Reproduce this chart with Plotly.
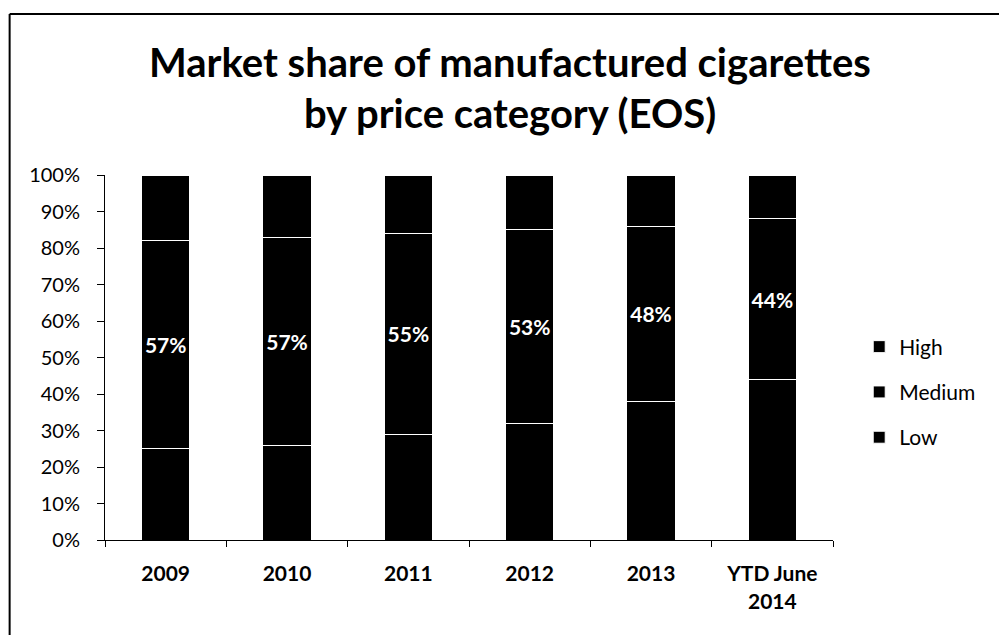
import plotly.graph_objects as go

# Market share (%) by price category, end-of-season figures
years = ["2009", "2010", "2011", "2012", "2013", "YTD June<br>2014"]
low = [25, 26, 29, 32, 38, 44]
medium = [57, 57, 55, 53, 48, 44]
high = [18, 17, 16, 15, 14, 12]

y_ticks = [0, 10, 20, 30, 40, 50, 60, 70, 80, 90, 100]
y_tick_text = [f"{v}%" for v in y_ticks]

title_lines = ["Market share of manufactured cigarettes", "by price category (EOS)"]

FONT = "Lato"
BAR_LINE = dict(color="white", width=1)

fig = go.Figure()
fig.add_trace(go.Bar(name="Low", x=years, y=low, legendrank=3, legendgroup="low",
                     marker=dict(color="black", line=BAR_LINE)))
fig.add_trace(go.Bar(
    name="Medium", x=years, y=medium, legendrank=2, legendgroup="medium",
    marker=dict(color="black", line=BAR_LINE),
    texttemplate="%{y}%", textposition="inside", insidetextanchor="middle",
    textangle=0, constraintext="none",
    insidetextfont=dict(color="white", size=21, family=FONT, weight="bold"),
))
fig.add_trace(go.Bar(name="High", x=years, y=high, legendrank=1, legendgroup="high",
                     marker=dict(color="black", line=BAR_LINE)))

fig.update_layout(
    barmode="stack",
    bargap=0.6,
    width=999, height=636,
    margin=dict(l=105, r=166, t=175, b=96),
    paper_bgcolor="white", plot_bgcolor="white",
    font=dict(family=FONT, color="black"),
    legend=dict(
        x=1.036, xanchor="left", y=0.585, yanchor="top",
        traceorder="grouped", tracegroupgap=15,
        font=dict(size=21, family=FONT, color="black"),
        bgcolor="rgba(0,0,0,0)",
    ),
    showlegend=True,
)

# Two-line chart title
for text, ypos in zip(title_lines, [1.3096, 1.170]):
    fig.add_annotation(
        text=text, xref="paper", yref="paper", x=0.556, y=ypos,
        xanchor="center", yanchor="middle", showarrow=False,
        font=dict(size=40, family=FONT, weight="bold", color="black"),
    )

fig.update_xaxes(
    showline=True, linecolor="black", linewidth=1,
    ticks="outside", tickson="boundaries", ticklen=6, tickcolor="black",
    tickfont=dict(size=21, family=FONT, weight="bold", color="black"),
    ticklabelstandoff=15,
    showgrid=False,
)
fig.update_yaxes(
    range=[0, 100],
    tickvals=y_ticks, ticktext=y_tick_text,
    showline=True, linecolor="black", linewidth=1,
    ticks="outside", ticklen=7, tickcolor="black",
    tickfont=dict(size=20, family=FONT, color="black"),
    ticklabelstandoff=13,
    showgrid=False, zeroline=False,
)

# Frame edges of the chart area
fig.add_shape(type="line", xref="paper", yref="paper",
              x0=-0.131, x1=1.25, y0=1.441, y1=1.441,
              line=dict(color="black", width=2))
fig.add_shape(type="line", xref="paper", yref="paper",
              x0=-0.131, x1=-0.131, y0=1.441, y1=-0.26,
              line=dict(color="black", width=2))

fig.write_html("out.html")
